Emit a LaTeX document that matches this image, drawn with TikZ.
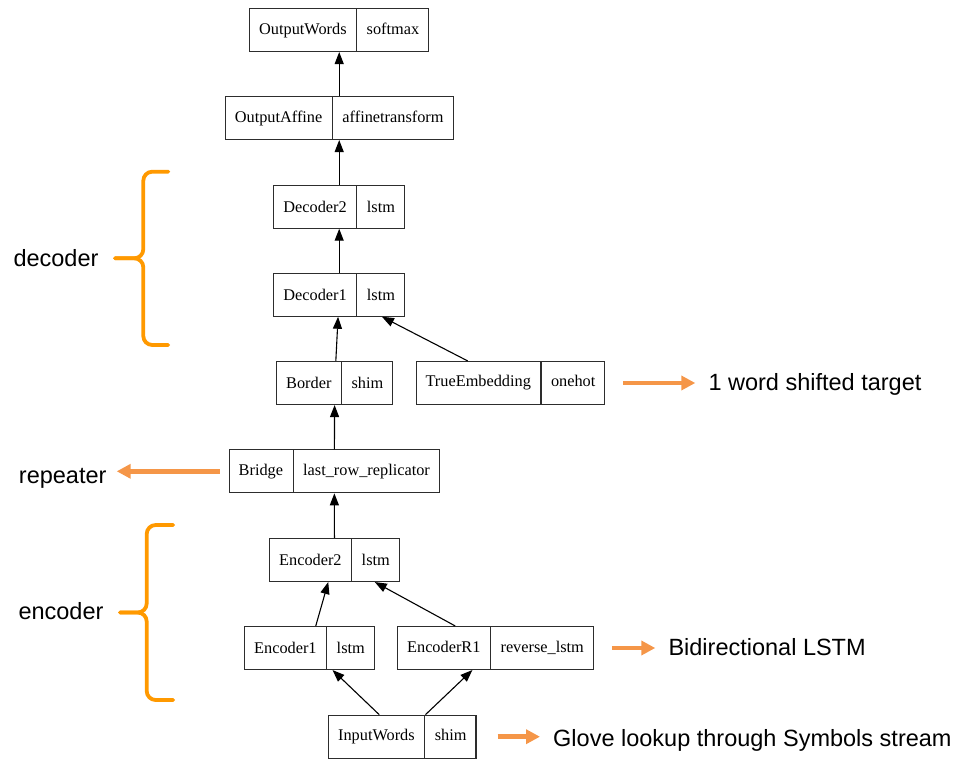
\documentclass[tikz,border=0pt]{standalone}
\usepackage{fontspec}
\usepackage{tikz}
\usepackage{xcolor}
\usetikzlibrary{shapes.multipart, positioning, arrows.meta}
\newfontfamily\recfont{Liberation Serif}
\newfontfamily\notefont{Liberation Sans}
\definecolor{braceorange}{RGB}{255, 153, 0}
\definecolor{noteorange}{RGB}{245, 150, 72}
\definecolor{recgray}{RGB}{45, 45, 45}
\tikzset{
    recnode/.style={rectangle split, rectangle split horizontal, rectangle split parts=2, rectangle split part align=base, draw=recgray, line width=1.1pt, inner xsep=9.5pt, inner ysep=3pt, minimum height=43pt, font=\fontsize{16.3}{19.5}\recfont},
    flow/.style={-{Triangle[length=12pt, width=9pt]}, line width=1.1pt, draw=black},
    notetext/.style={inner sep=0pt, font=\fontsize{23.5}{28}\notefont},
    notearrow/.style={-{Triangle[length=14pt, width=14pt]}, line width=4.5pt, draw=noteorange},
    groupbrace/.style={line width=3.8pt, draw=braceorange, line cap=round, line join=round, rounded corners=9pt}
}
\begin{document}
\begin{tikzpicture}[x=1pt, y=-1pt]
    \useasboundingbox (0,0) rectangle (963,759);
    \node[recnode] (outwords) at (339.2,30) {OutputWords \nodepart{two} softmax};
    \node[recnode] (outaff) at (339.2,118) {OutputAffine \nodepart{two} affinetransform};
    \node[recnode] (dec2) at (339.2,206.7) {Decoder2 \nodepart{two} lstm};
    \node[recnode] (dec1) at (339.2,294.7) {Decoder1 \nodepart{two} lstm};
    \node[recnode] (border) at (334.7,383) {Border \nodepart{two} shim};
    \node[recnode] (trueemb) at (510.5,383) {TrueEmbedding \nodepart{two} onehot};
    \node[recnode] (bridge) at (334.3,471.3) {Bridge \nodepart{two} last\_row\_replicator};
    \node[recnode] (enc2) at (334.5,560) {Encoder2 \nodepart{two} lstm};
    \node[recnode] (enc1) at (309.5,648) {Encoder1 \nodepart{two} lstm};
    \node[recnode] (encr1) at (495.5,648) {EncoderR1 \nodepart{two} reverse\_lstm};
    \node[recnode] (inwords) at (402.3,736.7) {InputWords \nodepart{two} shim};

    \draw[flow] (outaff) -- (outwords);
    \draw[flow] (dec2) -- (outaff);
    \draw[flow] (dec1) -- (dec2);
    \draw[flow] (border) -- (dec1);
    \draw[flow] (trueemb) -- (dec1);
    \draw[flow] (bridge) -- (border);
    \draw[flow] (enc2) -- (bridge);
    \draw[flow] (enc1) -- (enc2);
    \draw[flow] (encr1) -- (enc2);
    \draw[flow] (inwords) -- (enc1);
    \draw[flow] (inwords) -- (encr1);

    \node[notetext, anchor=base west] (declabel) at (13.3,266.7) {decoder};
    \draw[groupbrace] (168.3,171.7) -- (143.3,171.7) -- (143.3,258.3) -- (115,258.3);
    \draw[groupbrace] (115,258.3) -- (143.3,258.3) -- (143.3,345) -- (168.3,345);
    \node[notetext, anchor=base west] (enclabel) at (18.3,619.5) {encoder};
    \draw[groupbrace] (173.3,525) -- (146.7,525) -- (146.7,612.5) -- (120,612.5);
    \draw[groupbrace] (120,612.5) -- (146.7,612.5) -- (146.7,700) -- (173.3,700);

    \node[notetext, anchor=base east] (repeater) at (106.7,483) {repeater};
    \draw[notearrow, shorten <=9pt, shorten >=10pt] (bridge.west) -- (bridge.west -| repeater.east);
    \node[notetext, anchor=base west] (shifted) at (708.3,390.7) {1 word shifted target};
    \draw[notearrow, shorten <=18pt, shorten >=13pt] (trueemb.east) -- (trueemb.east -| shifted.west);
    \node[notetext, anchor=base west] (bidir) at (668.3,655) {Bidirectional LSTM};
    \draw[notearrow, shorten <=18pt, shorten >=13pt] (encr1.east) -- (encr1.east -| bidir.west);
    \node[notetext, anchor=base west] (glove) at (553,746.7) {Glove lookup through Symbols stream};
    \draw[notearrow, shorten <=21pt, shorten >=13pt] (inwords.east) -- (inwords.east -| glove.west);
\end{tikzpicture}
\end{document}
